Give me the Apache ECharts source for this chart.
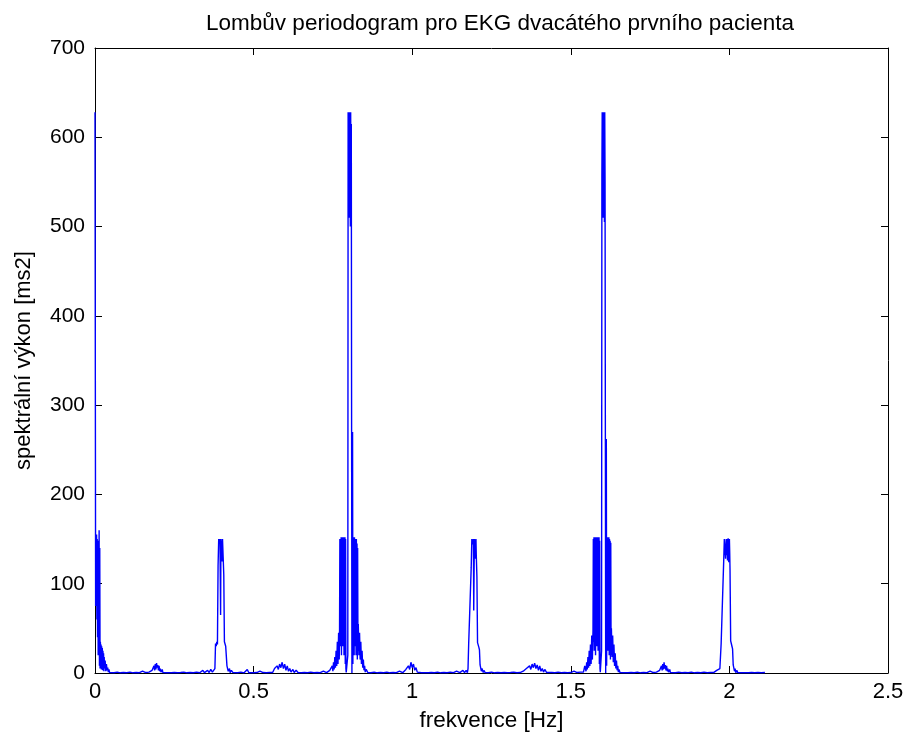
<!DOCTYPE html>
<html>
<head>
<meta charset="utf-8">
<script src="https://cdn.jsdelivr.net/npm/echarts@6/dist/echarts.min.js"></script>
<style>
html,body{margin:0;padding:0;background:#fff;}
#chart{width:909px;height:742px;}
</style>
</head>
<body>
<div id="chart"></div>
<script>
// ---- texts and ticks ----
var titleText = 'Lombův periodogram pro EKG dvacátého prvního pacienta';
var xLabel = 'frekvence [Hz]';
var yLabel = 'spektrální výkon [ms2]';
var xTicks = [0, 0.5, 1, 1.5, 2, 2.5];
var yTicks = [0, 100, 200, 300, 400, 500, 600, 700];

// ---- periodogram samples, [frequency Hz, power ms2] ----
var peak00 = [[0.000,628],[0.001,627],[0.002,75],[0.003,152],[0.004,90],[0.005,155],[0.006,60],[0.007,150],[0.008,40],[0.009,148],
 [0.010,20],[0.011,135],[0.012,70],[0.013,160],[0.014,8],[0.015,140],[0.016,5],[0.017,35],[0.018,10],[0.019,32],
 [0.020,4],[0.021,30],[0.022,8],[0.023,28],[0.024,3],[0.025,25],[0.026,10],[0.027,22],[0.028,2],[0.029,18],
 [0.030,5],[0.032,14],[0.034,2],[0.036,10],[0.038,3],[0.040,6],[0.042,1],[0.044,4],[0.046,0.5],[0.048,2],[0.050,0.5]];

var band02 = [[0.060,0.3],[0.070,1],[0.080,0.2],[0.090,0.5],[0.100,0.3],[0.110,1],[0.120,0.2],[0.130,0.5],[0.140,0.3],[0.150,2],
 [0.160,0.5],[0.170,1],[0.176,0.3],[0.180,3],[0.184,1],[0.186,8],[0.188,3],[0.190,10],[0.192,4],[0.194,11],
 [0.196,6],[0.198,9],[0.200,3],[0.202,8],[0.204,2],[0.206,5],[0.208,1],[0.212,4],[0.214,0.5],[0.220,2],
 [0.226,0.3],[0.232,1],[0.240,0.3],[0.250,0.5],[0.260,0.3],[0.270,0.5],[0.280,1],[0.290,0.2],[0.300,0.5],[0.310,0.3],
 [0.320,1],[0.330,0.3],[0.340,3],[0.345,0.5],[0.355,3],[0.360,0.5],[0.365,4],[0.370,1],[0.374,3]];

var peak04 = [[0.376,0.5],[0.378,5],[0.380,33],[0.382,30],[0.384,35],[0.386,32],[0.388,120],[0.390,150],[0.392,152],[0.393,145],
 [0.394,150],[0.396,65],[0.397,150],[0.398,151],[0.400,148],[0.401,125],[0.402,150],[0.404,130],[0.406,110],[0.408,35],
 [0.410,33],[0.412,30],[0.414,28],[0.416,8],[0.418,10],[0.420,2],[0.424,5],[0.426,0.5],[0.430,3],[0.435,0.5]];

var band06 = [[0.440,2],[0.450,0.3],[0.460,1],[0.470,0.2],[0.480,4],[0.485,0.3],[0.490,0.5],[0.500,0.3],[0.510,0.5],[0.520,2],
 [0.530,0.5],[0.540,0.3],[0.550,0.5],[0.556,2],[0.560,0.5],[0.566,5],[0.570,3],[0.574,8],[0.578,4],[0.582,10],
 [0.586,6],[0.590,12],[0.594,5],[0.598,10],[0.602,3],[0.606,8],[0.610,2],[0.614,5],[0.618,1],[0.624,4],
 [0.628,0.5],[0.634,3],[0.640,0.5],[0.650,0.3],[0.660,0.5],[0.670,0.3],[0.680,1],[0.690,0.3],[0.700,0.5],[0.710,0.3],
 [0.720,2],[0.730,0.5]];

var peak08 = [[0.735,1],[0.740,3],[0.744,1],[0.748,8],[0.750,2],[0.752,12],[0.754,4],[0.756,18],[0.758,6],[0.760,25],
 [0.762,8],[0.764,35],[0.766,10],[0.768,45],[0.770,15],[0.771,50],[0.772,150],[0.773,30],[0.774,150],[0.775,40],
 [0.776,152],[0.777,20],[0.778,150],[0.779,50],[0.780,152],[0.781,30],[0.782,150],[0.783,60],[0.784,152],[0.785,20],
 [0.786,150],[0.787,40],[0.788,152],[0.789,10],[0.790,150],[0.791,5],[0.792,0.5],[0.793,2],[0.795,1],[0.797,20],
 [0.798,628],[0.799,520],[0.800,625],[0.801,510],[0.802,628],[0.803,530],[0.804,620],[0.805,500],[0.806,628],[0.807,540],
 [0.808,615],[0.809,270],[0.810,0],[0.811,265],[0.812,270],[0.813,10],[0.814,152],[0.815,40],[0.816,150],[0.817,20],
 [0.818,152],[0.819,50],[0.820,150],[0.821,30],[0.822,148],[0.823,20],[0.824,150],[0.825,40],[0.826,145],[0.827,15],
 [0.828,140],[0.829,25],[0.830,55],[0.832,20],[0.834,45],[0.836,15],[0.838,35],[0.840,10],[0.842,25],[0.844,6],
 [0.846,15],[0.848,3],[0.850,8],[0.852,1],[0.855,4],[0.860,0.5],[0.865,2],[0.870,0.3]];

var band10 = [[0.880,1],[0.890,0.2],[0.900,0.5],[0.910,0.3],[0.920,1],[0.930,0.2],[0.940,0.5],[0.950,0.3],[0.960,2],[0.970,0.3],
 [0.975,1],[0.980,4],[0.984,2],[0.988,8],[0.992,4],[0.996,12],[1.000,6],[1.004,10],[1.008,3],[1.012,6],
 [1.016,1],[1.020,3],[1.030,0.3],[1.035,0.5],[1.050,0.3],[1.060,0.5],[1.070,0.3],[1.080,1],[1.090,0.2],[1.100,0.5],
 [1.110,0.3],[1.120,1],[1.130,0.3],[1.140,2],[1.150,0.5],[1.160,3],[1.165,0.5],[1.170,3],[1.174,0.5]];

var peak12 = [[1.176,5],[1.178,32],[1.180,30],[1.182,34],[1.184,31],[1.186,118],[1.188,150],[1.190,151],[1.192,144],[1.193,150],
 [1.194,70],[1.196,150],[1.197,152],[1.198,147],[1.200,128],[1.201,150],[1.202,132],[1.204,108],[1.206,34],[1.208,32],
 [1.210,29],[1.212,26],[1.214,9],[1.216,10],[1.218,2],[1.220,5],[1.224,0.5],[1.226,3],[1.230,0.5],[1.235,2]];

var band14 = [[1.240,0.3],[1.250,1],[1.260,0.2],[1.270,0.5],[1.280,0.3],[1.290,0.5],[1.300,0.3],[1.310,0.5],[1.320,1],[1.330,0.3],
 [1.340,0.5],[1.350,2],[1.356,0.5],[1.360,5],[1.366,3],[1.370,8],[1.374,4],[1.378,10],[1.382,6],[1.386,11],
 [1.390,5],[1.394,9],[1.398,3],[1.402,8],[1.406,2],[1.410,5],[1.414,1],[1.418,4],[1.424,0.5],[1.430,0.3],
 [1.440,0.5],[1.450,0.3],[1.460,1],[1.470,0.3],[1.480,0.5],[1.490,0.3],[1.500,0.5],[1.510,2],[1.520,0.5],[1.530,1]];

var peak16 = [[1.535,3],[1.540,1],[1.544,8],[1.548,2],[1.550,12],[1.552,4],[1.554,18],[1.556,6],[1.558,25],[1.560,8],
 [1.562,32],[1.564,10],[1.566,42],[1.568,15],[1.570,48],[1.571,150],[1.572,35],[1.573,152],[1.574,25],[1.575,150],
 [1.576,45],[1.577,152],[1.578,20],[1.579,150],[1.580,55],[1.581,152],[1.582,30],[1.583,150],[1.584,60],[1.585,152],
 [1.586,25],[1.587,150],[1.588,40],[1.589,152],[1.590,10],[1.591,148],[1.592,5],[1.593,1],[1.595,2],[1.597,25],
 [1.598,555],[1.599,628],[1.600,520],[1.601,626],[1.602,510],[1.603,628],[1.604,560],[1.605,622],[1.606,505],[1.607,628],
 [1.608,550],[1.609,260],[1.610,0],[1.611,250],[1.612,262],[1.613,8],[1.614,150],[1.615,35],[1.616,152],[1.617,25],
 [1.618,150],[1.619,45],[1.620,152],[1.621,20],[1.622,150],[1.623,30],[1.624,148],[1.625,15],[1.626,146],[1.627,20],
 [1.628,50],[1.630,18],[1.632,42],[1.634,12],[1.636,32],[1.638,8],[1.640,22],[1.642,5],[1.644,14],[1.646,3],
 [1.648,8],[1.650,1],[1.652,4],[1.655,0.5],[1.660,2],[1.665,0.3],[1.670,1]];

var band18 = [[1.680,0.3],[1.690,0.5],[1.700,0.3],[1.710,1],[1.720,0.2],[1.730,0.5],[1.740,0.3],[1.750,2],[1.760,0.5],[1.770,1],
 [1.776,0.3],[1.780,3],[1.784,1],[1.786,8],[1.788,3],[1.790,10],[1.792,4],[1.794,12],[1.796,5],[1.798,9],
 [1.800,3],[1.802,8],[1.804,2],[1.806,5],[1.808,1],[1.812,4],[1.814,0.5],[1.820,2],[1.830,0.3],[1.840,1],
 [1.850,0.3],[1.860,0.5],[1.870,0.3],[1.880,1],[1.890,0.2],[1.900,0.5],[1.910,0.3],[1.920,1],[1.930,0.3],[1.940,0.5],
 [1.950,0.5],[1.960,3],[1.965,1],[1.970,5]];

var peak20 = [[1.974,33],[1.976,31],[1.978,35],[1.980,32],[1.982,125],[1.984,150],[1.986,152],[1.988,128],[1.990,150],[1.992,132],
 [1.993,150],[1.994,126],[1.996,151],[1.997,150],[1.998,124],[2.000,150],[2.001,135],[2.002,115],[2.004,36],[2.006,33],
 [2.008,30],[2.010,27],[2.012,9],[2.014,10],[2.016,2],[2.018,5],[2.020,0.5],[2.024,3],[2.026,0.5],[2.030,2],
 [2.035,0.3],[2.040,1],[2.045,0.3],[2.050,0.5],[2.060,0.3],[2.070,0.5],[2.080,0.3],[2.090,0.5],[2.100,0.3],[2.112,0.5]];

var points = [].concat(peak00, band02, peak04, band06, peak08, band10, peak12, band14, peak16, band18, peak20);

var FONT = '"Liberation Sans", Arial, Helvetica, sans-serif';
var chart = echarts.init(document.getElementById('chart'), null, { renderer: 'canvas' });

function baseAxis(extra) {
  return Object.assign({
    axisLine: { show: true, onZero: false, lineStyle: { color: '#000', width: 1 } },
    axisTick: { show: true, inside: true, length: 7, lineStyle: { color: '#000', width: 1 } },
    splitLine: { show: false }
  }, extra);
}

chart.setOption({
  animation: false,
  backgroundColor: '#ffffff',
  title: {
    text: titleText,
    left: 495, top: 7, textAlign: 'center',
    textStyle: { fontFamily: FONT, fontSize: 22.5, fontWeight: 'normal', color: '#000' }
  },
  grid: { left: 95, right: 21, top: 48, bottom: 69, containLabel: false },
  xAxis: [
    baseAxis({
      type: 'value', position: 'bottom', min: xTicks[0], max: xTicks[xTicks.length - 1], interval: 0.5,
      name: xLabel, nameLocation: 'middle', nameGap: 36,
      nameTextStyle: { fontFamily: FONT, fontSize: 22.5, color: '#000' },
      axisLabel: { show: true, margin: 8, color: '#000', fontFamily: FONT, fontSize: 22,
        formatter: function (v) { return String(v); } }
    }),
    baseAxis({
      type: 'value', position: 'top', min: xTicks[0], max: xTicks[xTicks.length - 1], interval: 0.5,
      axisLabel: { show: false }
    })
  ],
  yAxis: [
    baseAxis({
      type: 'value', position: 'left', min: yTicks[0], max: yTicks[yTicks.length - 1], interval: 100,
      name: yLabel, nameLocation: 'middle', nameGap: 60, nameRotate: 90,
      nameTextStyle: { fontFamily: FONT, fontSize: 22, color: '#000' },
      axisLabel: { show: true, margin: 10, color: '#000', fontFamily: FONT, fontSize: 21 }
    }),
    baseAxis({
      type: 'value', position: 'right', min: yTicks[0], max: yTicks[yTicks.length - 1], interval: 100,
      axisLabel: { show: false }
    })
  ],
  series: [{
    type: 'line',
    data: points,
    xAxisIndex: 0, yAxisIndex: 0,
    showSymbol: false,
    symbol: 'none',
    sampling: null,
    lineStyle: { color: '#0000ff', width: 1.4 },
    z: 1
  }]
});
</script>
</body>
</html>
